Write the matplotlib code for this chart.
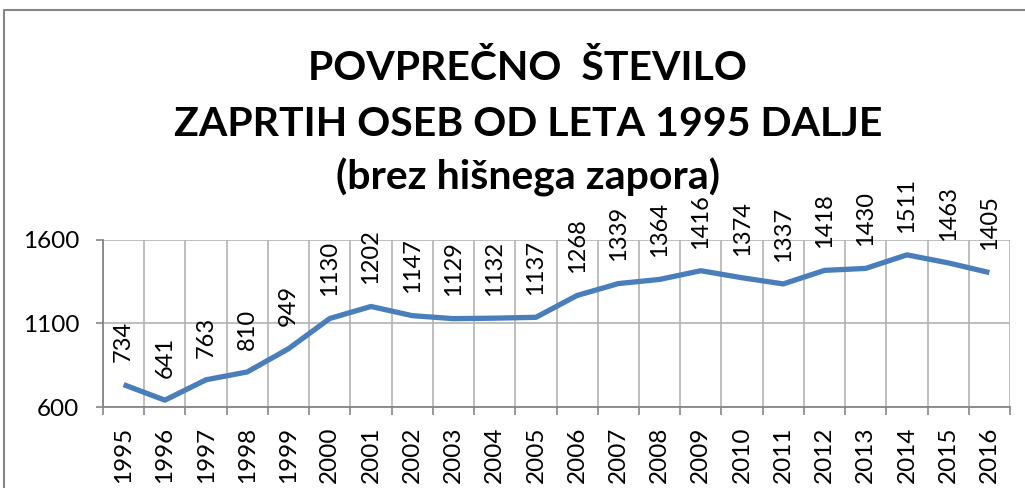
import matplotlib.pyplot as plt
import numpy as np

years = [str(y) for y in range(1995, 2017)]
values = [734, 641, 763, 810, 949, 1130, 1202, 1147, 1129, 1132, 1137,
          1268, 1339, 1364, 1416, 1374, 1337, 1418, 1430, 1511, 1463, 1405]
yticks = [600, 1100, 1600]

plt.rcParams['font.family'] = ['Lato', 'DejaVu Sans']

fig = plt.figure(figsize=(10.25, 4.88), dpi=100)
ax = fig.add_axes([103 / 1025, 1 - 407 / 488, (1010 - 103) / 1025, (407 - 240) / 488])

x = np.arange(len(years))
ax.plot(x, values, color='#4A7EBB', linewidth=3.8, solid_joinstyle='round',
        solid_capstyle='butt', zorder=3)

# data labels, rotated, above each point
for xi, v in zip(x, values):
    ax.annotate(str(v), (xi, v), xytext=(0, 16), textcoords='offset points',
                rotation=90, ha='center', va='bottom', fontsize=17,
                annotation_clip=False, clip_on=False)

ax.set_xlim(-0.5, len(years) - 0.5)
ax.set_ylim(600, 1600)
ax.set_yticks(yticks)
ax.set_yticklabels([str(t) for t in yticks], fontsize=17.5)
ax.set_xticks(x)
ax.set_xticklabels(years, rotation=90, fontsize=17.5)
ax.set_xticks(np.arange(-0.5, len(years), 1), minor=True)

ax.tick_params(axis='x', which='major', length=0, pad=14)
ax.tick_params(axis='x', which='minor', length=6, color='#868686', width=1.2)
ax.tick_params(axis='y', length=5, color='#868686', width=1.2, pad=12)

ax.grid(True, axis='y', color='#B3B3B3', linewidth=1.2)
ax.grid(True, axis='x', which='minor', color='#B3B3B3', linewidth=1.2)
for side in ['top', 'right']:
    ax.spines[side].set_visible(False)
for side in ['left', 'bottom']:
    ax.spines[side].set_color('#868686')
    ax.spines[side].set_linewidth(1.3)

title_lines = ["POVPREČNO  ŠTEVILO", "ZAPRTIH OSEB OD LETA 1995 DALJE", "(brez hišnega zapora)"]
baselines = [80, 136, 189]
for line, b in zip(title_lines, baselines):
    fig.text(0.515, 1 - b / 488, line, ha='center', va='baseline',
             fontsize=29.5, fontweight='bold')

# chart border
fig.add_artist(plt.Line2D([4 / 1025, 4 / 1025, 1.0], [0, 1 - 10 / 488, 1 - 10 / 488],
                          transform=fig.transFigure, color='#868686', linewidth=1.5))

fig.savefig('out.png', dpi=100)
